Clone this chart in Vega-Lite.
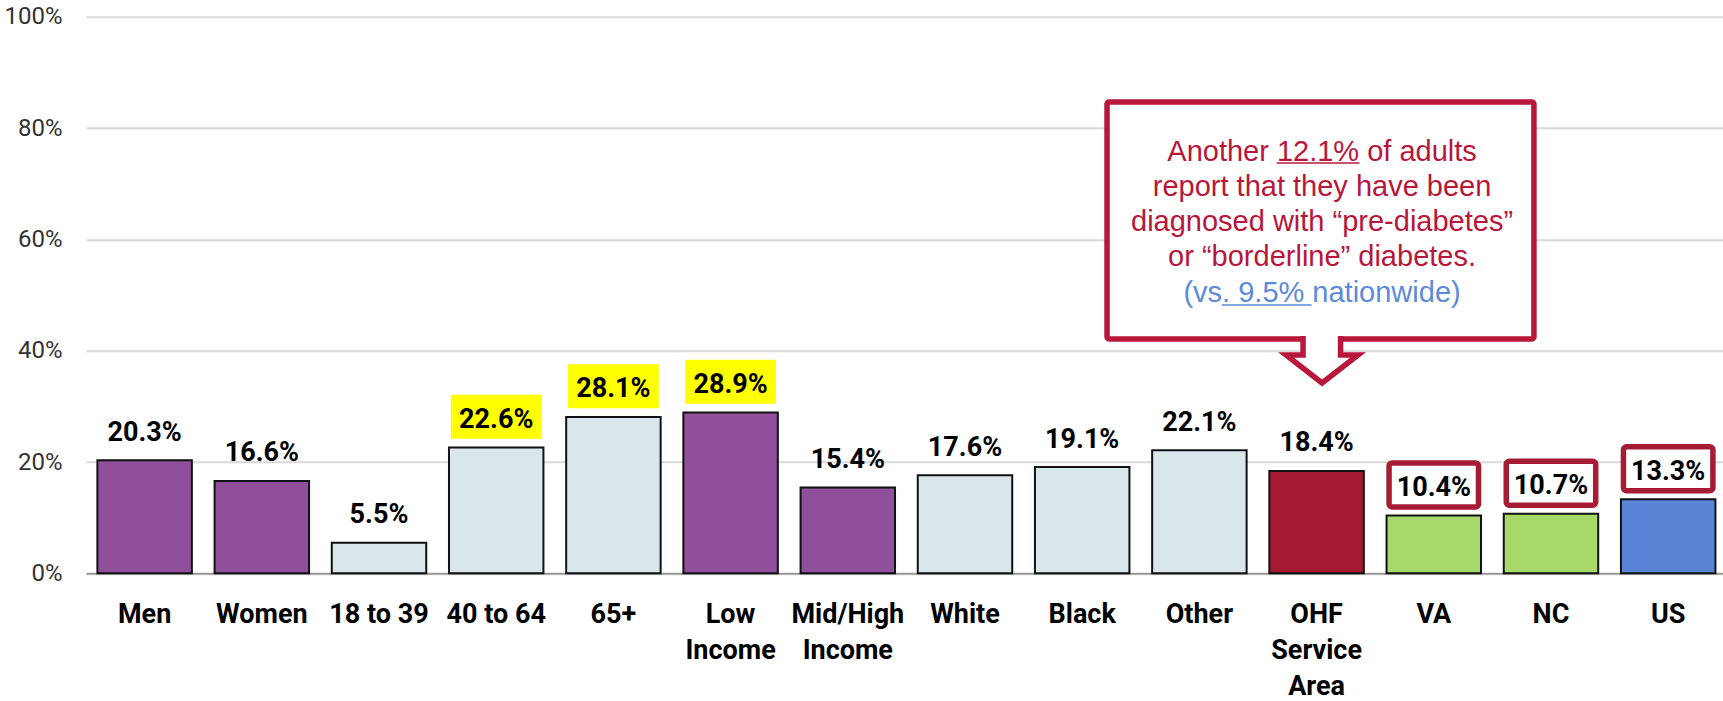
{
  "$schema": "https://vega.github.io/schema/vega-lite/v6.json",
  "width": 1637,
  "height": 556.5,
  "autosize": "none",
  "padding": {"left": 86, "top": 16.8, "right": 0, "bottom": 127.7},
  "background": "white",
  "config": {"view": {"stroke": null}},
  "resolve": {"scale": {"x": "independent"}},
  "layer": [
    {
      "data": {
        "values": [
          {"category": "Men", "group": "Gender", "value": 0.203},
          {"category": "Women", "group": "Gender", "value": 0.166},
          {"category": "18 to 39", "group": "Age", "value": 0.055},
          {"category": "40 to 64", "group": "Age", "value": 0.226},
          {"category": "65+", "group": "Age", "value": 0.281},
          {"category": "Low Income", "group": "Income", "value": 0.289},
          {"category": "Mid/High Income", "group": "Income", "value": 0.154},
          {"category": "White", "group": "Race", "value": 0.176},
          {"category": "Black", "group": "Race", "value": 0.191},
          {"category": "Other", "group": "Race", "value": 0.221},
          {"category": "OHF Service Area", "group": "Service Area", "value": 0.184},
          {"category": "VA", "group": "State", "value": 0.104},
          {"category": "NC", "group": "State", "value": 0.107},
          {"category": "US", "group": "Nation", "value": 0.133}
        ]
      },
      "encoding": {
        "x": {
          "field": "category",
          "type": "nominal",
          "sort": null,
          "scale": {
            "domain": ["Men", "Women", "18 to 39", "40 to 64", "65+", "Low Income", "Mid/High Income", "White", "Black", "Other", "OHF Service Area", "VA", "NC", "US"],
            "paddingInner": 0.194,
            "paddingOuter": 0.081,
            "align": 0.6
          },
          "axis": {
            "title": null,
            "ticks": false,
            "labelAngle": 0,
            "labelPadding": 28.5,
            "labelFont": "Roboto",
            "labelFontSize": 27,
            "labelFontWeight": "bold",
            "labelColor": "#000000",
            "labelLineHeight": 36,
            "labelOverlap": false,
            "labelLimit": 0,
            "labelExpr": "datum.label == 'Low Income' ? ['Low', 'Income'] : datum.label == 'Mid/High Income' ? ['Mid/High', 'Income'] : datum.label == 'OHF Service Area' ? ['OHF', 'Service', 'Area'] : datum.label",
            "domainColor": "#9A9A9A",
            "domainWidth": 2,
            "grid": false
          }
        },
        "y": {
          "field": "value",
          "type": "quantitative",
          "scale": {"domain": [0, 1], "nice": false},
          "axis": {
            "title": null,
            "values": [0, 0.2, 0.4, 0.6, 0.8, 1],
            "format": ".0%",
            "ticks": false,
            "domain": false,
            "gridColor": "#D9D9D9",
            "gridWidth": 2,
            "labelFont": "Roboto",
            "labelFontSize": 24,
            "labelColor": "#333333",
            "labelPadding": 24
          }
        }
      },
      "layer": [
        {
          "mark": {"type": "bar", "stroke": "#111111", "strokeWidth": 2},
          "encoding": {
            "color": {
              "field": "group",
              "type": "nominal",
              "scale": {
                "domain": ["Gender", "Age", "Income", "Race", "Service Area", "State", "Nation"],
                "range": ["#904F9B", "#D9E7EC", "#904F9B", "#D9E7EC", "#A51A31", "#A6D86A", "#5A84D6"]
              },
              "legend": null
            }
          }
        },
        {
          "transform": [{"filter": {"field": "category", "oneOf": ["40 to 64", "65+", "Low Income"]}}],
          "mark": {"type": "bar", "fill": "#FFFF00", "yOffset": -8.7, "y2Offset": -52.7, "width": {"band": 0.96}},
          "encoding": {"y2": {"field": "value"}}
        },
        {
          "transform": [{"filter": {"field": "group", "oneOf": ["State", "Nation"]}}],
          "mark": {"type": "bar", "fill": "white", "stroke": "#A51C34", "strokeWidth": 5.5, "cornerRadius": 3, "yOffset": -8.5, "y2Offset": -52.5, "width": {"band": 0.947}},
          "encoding": {"y2": {"field": "value"}}
        },
        {
          "mark": {
            "type": "text",
            "dy": -19.5,
            "baseline": "alphabetic",
            "align": "center",
            "font": "Roboto",
            "fontWeight": "bold",
            "fontSize": 27,
            "fill": "#000000"
          },
          "encoding": {"text": {"field": "value", "format": ".1%"}}
        }
      ]
    },
    {
      "data": {"values": [{}]},
      "layer": [
        {
          "mark": {"type": "rect", "fill": "white", "stroke": "#B8163A", "strokeWidth": 5.5, "cornerRadius": 2},
          "encoding": {
            "x": {"datum": 8.732, "type": "quantitative", "scale": {"domain": [0, 14], "nice": false, "zero": false}, "axis": null},
            "x2": {"datum": 12.383},
            "y": {"datum": 0.8469, "type": "quantitative"},
            "y2": {"datum": 0.421}
          }
        },
        {
          "mark": {
            "type": "point",
            "shape": "M-0.528,-0.694L-0.528,-0.167L-1,-0.167L0,0.611L1,-0.167L0.514,-0.167L0.514,-0.694",
            "size": 5184,
            "filled": true,
            "fill": "white",
            "stroke": "#B8163A",
            "strokeWidth": 5.5,
            "strokeJoin": "miter",
            "opacity": 1
          },
          "encoding": {
            "x": {"datum": 10.571, "type": "quantitative"},
            "y": {"datum": 0.3815, "type": "quantitative"}
          }
        },
        {
          "mark": {
            "type": "text",
            "font": "Liberation Sans, Arial, sans-serif",
            "fontSize": 29,
            "fill": "#B8163A",
            "align": "center",
            "baseline": "alphabetic",
            "lineHeight": 35,
            "text": ["Another 12.1% of adults", "report that they have been", "diagnosed with “pre-diabetes”", "or “borderline” diabetes."]
          },
          "encoding": {
            "x": {"datum": 10.571, "type": "quantitative"},
            "y": {"datum": 0.7409, "type": "quantitative"}
          }
        },
        {
          "mark": {
            "type": "text",
            "font": "Liberation Sans, Arial, sans-serif",
            "fontSize": 29,
            "fill": "#5B8BD9",
            "align": "center",
            "baseline": "alphabetic",
            "text": "(vs. 9.5% nationwide)"
          },
          "encoding": {
            "x": {"datum": 10.571, "type": "quantitative"},
            "y": {"datum": 0.488, "type": "quantitative"}
          }
        },
        {
          "mark": {"type": "rule", "stroke": "#B8163A", "strokeWidth": 1.6},
          "encoding": {
            "x": {"datum": 10.183, "type": "quantitative"},
            "x2": {"datum": 10.889},
            "y": {"datum": 0.7373, "type": "quantitative"}
          }
        },
        {
          "mark": {"type": "rule", "stroke": "#5B8BD9", "strokeWidth": 1.6},
          "encoding": {
            "x": {"datum": 9.713, "type": "quantitative"},
            "x2": {"datum": 10.482},
            "y": {"datum": 0.4821, "type": "quantitative"}
          }
        }
      ]
    }
  ]
}
